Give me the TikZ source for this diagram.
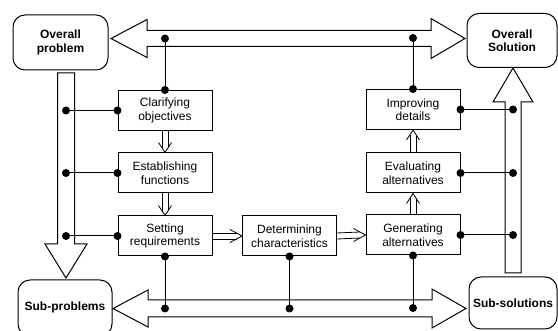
\documentclass[tikz,border=0pt]{standalone}
\usepackage{fontspec}
\setmainfont{Liberation Sans}
\begin{document}
\begin{tikzpicture}[x=1pt,y=-1pt,
  lw/.style={line width=1pt},
  stepbox/.style={draw,lw,minimum width=94pt,minimum height=40pt,align=center,inner sep=1pt,
    font=\fontsize{12}{13.5}\selectfont},
  endbox/.style={draw,lw,rounded corners=12pt,align=center,inner sep=1pt,
    font=\bfseries\fontsize{12}{13.5}\selectfont},
  bigarrow/.style={draw,lw,fill=white,line join=miter},
  dot/.style={circle,fill=black,inner sep=0pt,minimum size=8pt},
  fl/.style={line width=0.8pt},
  link/.style={lw}]
\newcommand\flowdown[2]{%
  \draw[fl] ([xshift=-3pt]#1.south) -- ([xshift=-3pt,yshift=4.6pt]#2.north);
  \draw[fl] ([xshift=3pt]#1.south) -- ([xshift=3pt,yshift=4.6pt]#2.north);
  \draw[fl] ([xshift=-6.5pt,yshift=10pt]#2.north) -- (#2.north) -- ([xshift=6.5pt,yshift=10pt]#2.north);}
\newcommand\flowup[2]{%
  \draw[fl] ([xshift=-3pt]#1.north) -- ([xshift=-3pt,yshift=-4.6pt]#2.south);
  \draw[fl] ([xshift=3pt]#1.north) -- ([xshift=3pt,yshift=-4.6pt]#2.south);
  \draw[fl] ([xshift=-6.5pt,yshift=-10pt]#2.south) -- (#2.south) -- ([xshift=6.5pt,yshift=-10pt]#2.south);}
\newcommand\flowright[2]{%
  \draw[fl] ([yshift=-3pt]#1.east) -- ([yshift=-3pt,xshift=-5.5pt]#2.west);
  \draw[fl] ([yshift=3pt]#1.east) -- ([yshift=3pt,xshift=-5.5pt]#2.west);
  \draw[fl] ([yshift=-6.5pt,xshift=-12pt]#2.west) -- (#2.west) -- ([yshift=6.5pt,xshift=-12pt]#2.west);}
\useasboundingbox (0,0) rectangle (558,331);
% end boxes
\node[endbox,minimum width=95pt,minimum height=55pt] (op) at (60.5,42.5) {Overall\\problem};
\node[endbox,minimum width=90pt,minimum height=54pt] (os) at (512,40.5) {Overall\\Solution};
\node[endbox,minimum width=94pt,minimum height=56pt] (sp) at (65,308) {};
\node[font=\bfseries\fontsize{12}{13.5}\selectfont] (spt) at (65,307) {Sub-problems};
\node[endbox,minimum width=88pt,minimum height=52pt] (ss) at (513,303) {Sub-solutions};
% big arrows
\draw[bigarrow] (111,38.5) -- (147,19.5) -- (147,30.5) -- (431,30.5) -- (431,18.5)
  -- (465,38.5) -- (431,58.5) -- (431,46.5) -- (147,46.5) -- (147,57.5) -- cycle;
\draw[bigarrow] (113,308.5) -- (148,290) -- (148,300) -- (432,300) -- (432,289)
  -- (466,308.5) -- (432,328) -- (432,317) -- (148,317) -- (148,327) -- cycle;
\draw[bigarrow] (57.5,73) -- (74.5,73) -- (74.5,244) -- (87,244) -- (66,278)
  -- (45,244) -- (57.5,244) -- cycle;
\draw[bigarrow] (505,273) -- (521,273) -- (521,102) -- (533,102) -- (513,68)
  -- (493,102) -- (505,102) -- cycle;
% step boxes
\node[stepbox] (co) at (165,110.5) {Clarifying\\objectives};
\node[stepbox] (ef) at (165,173) {Establishing\\functions};
\node[stepbox] (sr) at (165,236) {Setting\\requirements};
\node[stepbox] (dc) at (289.5,236) {Determining\\characteristics};
\node[stepbox] (ga) at (413,235) {Generating\\alternatives};
\node[stepbox] (ea) at (413,173) {Evaluating\\alternatives};
\node[stepbox] (id) at (413,109.5) {Improving\\details};
% flow arrows
\flowdown{co}{ef}
\flowdown{ef}{sr}
\flowright{sr}{dc}
\flowright{dc}{ga}
\flowup{ga}{ea}
\flowup{ea}{id}
% connection points
\coordinate (t1) at (co.north |- 0,38.5);
\coordinate (t2) at (id.north |- 0,38);
\coordinate (l1) at (66,0 |- co.west);
\coordinate (l2) at (66,0 |- ef.west);
\coordinate (l3) at (66,0 |- sr.west);
\coordinate (r1) at (513,0 |- id.east);
\coordinate (r2) at (513,0 |- ea.east);
\coordinate (r3) at (513,0 |- ga.east);
\coordinate (b1) at (sr.south |- 0,308.5);
\coordinate (b2) at (dc.south |- 0,308.5);
\coordinate (b3) at (ga.south |- 0,308);
% links
\foreach \a/\b in {co.north/t1,id.north/t2,co.west/l1,ef.west/l2,sr.west/l3,
  id.east/r1,ea.east/r2,ga.east/r3,sr.south/b1,dc.south/b2,ga.south/b3}{
  \draw[link] (\a) -- (\b);
  \node[dot] at (\a) {};
  \node[dot] at (\b) {};
}
\end{tikzpicture}
\end{document}
